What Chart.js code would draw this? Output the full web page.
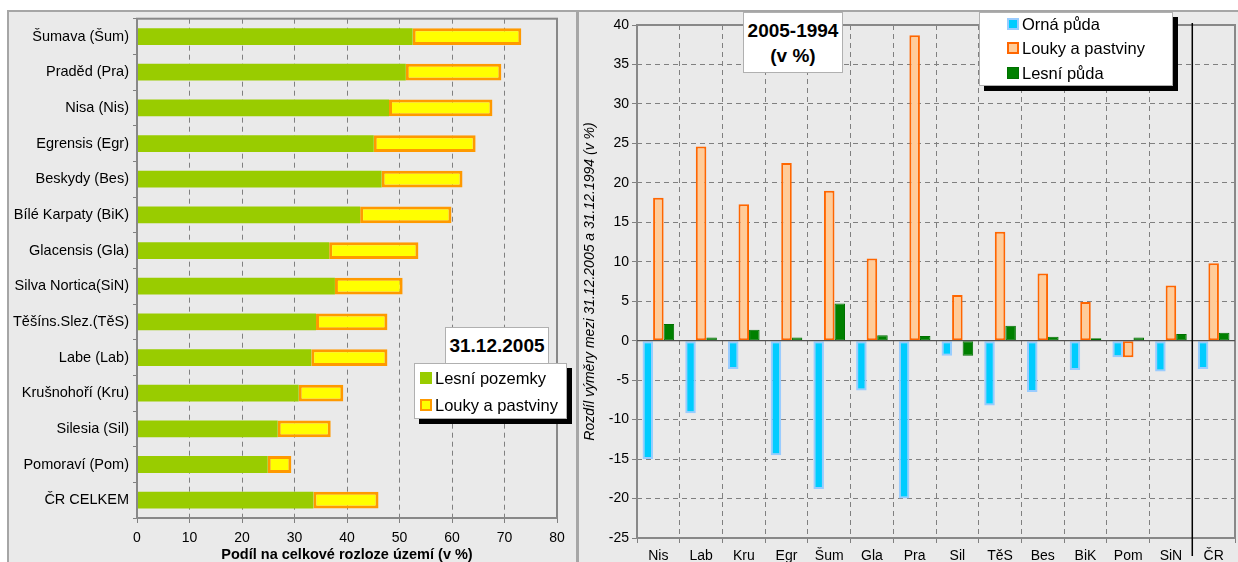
<!DOCTYPE html>
<html>
<head>
<meta charset="utf-8">
<script src="https://cdn.jsdelivr.net/npm/chart.js@4/dist/chart.umd.min.js"></script>
<style>
  html, body { margin:0; padding:0; background:#fff; }
  body { width:1238px; height:562px; overflow:hidden; position:relative; font-family:"Liberation Sans", Arial, sans-serif; }
  .panel { position:absolute; background:#eaeaea; box-sizing:border-box; }
  #pl { left:7px; top:10px; width:571px; height:560px; border-top:2px solid #a6a6a6; border-left:2px solid #a6a6a6; border-right:2px solid #a6a6a6; }
  #pr { left:578px; top:10px; width:660px; height:560px; border-top:2px solid #a6a6a6; border-left:1px solid #a6a6a6; }
  canvas { position:absolute; }
  .box { position:absolute; background:#fff; border:1px solid #b0b0b0; box-sizing:border-box; }
  .ttl { font-weight:bold; text-align:center; color:#000; }
  .lg { box-shadow:5px 5px 0 #000; }
  .item { position:absolute; white-space:nowrap; color:#000; }
  .sw { position:absolute; box-sizing:border-box; }
</style>
</head>
<body>
<div class="panel" id="pl"></div>
<div class="panel" id="pr"></div>
<canvas id="cl" width="568" height="556" style="left:9px;top:6px;width:568px;height:556px"></canvas>
<canvas id="cr" width="658" height="550" style="left:580px;top:12px;width:658px;height:550px"></canvas>

<div class="box ttl" style="left:445px;top:327px;width:104px;height:40px;font-size:19px;line-height:36px;">31.12.2005</div>
<div class="box lg" id="legL" style="left:414px;top:363px;width:153px;height:56px;"></div>

<div class="box ttl" style="left:743px;top:12px;width:100px;height:61px;font-size:19px;line-height:25px;padding-top:5px;">2005-1994<br>(v %)</div>
<div class="box lg" id="legR" style="left:979px;top:12px;width:194px;height:74px;"></div>

<script>
// ---- Left chart data (31.12.2005, share of total area in %) ----
const leftCategories = ['Šumava (Šum)', 'Praděd (Pra)', 'Nisa (Nis)', 'Egrensis (Egr)', 'Beskydy (Bes)', 'Bílé Karpaty (BiK)', 'Glacensis (Gla)', 'Silva Nortica(SiN)', 'Těšíns.Slez.(TěS)', 'Labe (Lab)', 'Krušnohoří (Kru)', 'Silesia (Sil)', 'Pomoraví (Pom)', 'ČR CELKEM'];
const forestShare = [52.5, 51.2, 48.0, 45.1, 46.6, 42.5, 36.6, 37.7, 34.1, 33.2, 30.8, 26.8, 24.9, 33.6];
const meadowShare = [20.7, 18.2, 19.7, 19.4, 15.4, 17.4, 17.0, 12.9, 13.6, 14.5, 8.5, 10.1, 4.5, 12.4];
const leftSeriesNames = ['Lesní pozemky', 'Louky a pastviny'];
const leftXTicks = [0, 10, 20, 30, 40, 50, 60, 70, 80];
const leftXTitle = 'Podíl na celkové rozloze území (v %)';

// ---- Right chart data (difference 2005-1994, %) ----
const rightCategories = ['Nis', 'Lab', 'Kru', 'Egr', 'Šum', 'Gla', 'Pra', 'Sil', 'TěS', 'Bes', 'BiK', 'Pom', 'SiN', 'ČR'];
const arableChange = [-15.0, -9.2, -3.6, -14.5, -18.8, -6.3, -20.0, -1.9, -8.2, -6.5, -3.7, -2.1, -3.9, -3.6];
const meadowChange = [18.1, 24.6, 17.3, 22.5, 19.0, 10.4, 38.7, 5.8, 13.8, 8.5, 4.9, -2.1, 7.0, 9.8];
const forestChange = [2.1, 0.4, 1.4, 0.4, 4.7, 0.7, 0.6, -1.9, 1.9, 0.5, 0.3, 0.4, 0.85, 1.0];
const rightSeriesNames = ['Orná půda', 'Louky a pastviny', 'Lesní půda'];
const rightYTicks = [-25, -20, -15, -10, -5, 0, 5, 10, 15, 20, 25, 30, 35, 40];
const rightYTitle = 'Rozdíl výměry mezi 31.12.2005 a 31.12.1994 (v %)';

const FONT = '"Liberation Sans", Arial, sans-serif';
Chart.defaults.font.family = FONT;
Chart.defaults.color = '#000';
Chart.defaults.animation = false;

const frame = {
  id: 'frame',
  afterDatasetsDraw(chart) {
    const a = chart.chartArea, c = chart.ctx;
    c.save();
    c.strokeStyle = '#888';
    c.lineWidth = 2;
    c.strokeRect(a.left, a.top, a.right - a.left, a.bottom - a.top);
    c.restore();
  }
};

const leftStyles = [
  { bg: '#99cc00', border: '#99cc00', bw: 0 },
  { bg: '#ffff00', border: '#ff9900', bw: 2 }
];
const rightStyles = [
  { bg: '#00ccff', border: '#99ccff', bw: 2 },
  { bg: '#ffcc99', border: '#ff6600', bw: 2 },
  { bg: '#008000', border: '#007000', bw: 1 }
];

new Chart(document.getElementById('cl'), {
  type: 'bar',
  data: {
    labels: leftCategories,
    datasets: [
      { label: leftSeriesNames[0], data: forestShare, backgroundColor: leftStyles[0].bg, borderWidth: 0, borderSkipped: false },
      { label: leftSeriesNames[1], data: meadowShare, backgroundColor: leftStyles[1].bg, borderColor: leftStyles[1].border, borderWidth: 3, borderSkipped: false }
    ]
  },
  options: {
    indexAxis: 'y',
    responsive: false,
    layout: { padding: { top: 5, right: 20, left: 0, bottom: 0 } },
    plugins: { legend: { display: false }, tooltip: { enabled: false } },
    datasets: { bar: { categoryPercentage: 0.94, barPercentage: 0.5 } },
    scales: {
      x: {
        stacked: true, min: 0, max: 80,
        afterBuildTicks(s) { s.ticks = leftXTicks.map(v => ({ value: v })); },
        afterFit(s) { s.height = 44; },
        ticks: { font: { size: 14 }, padding: 7 },
        grid: { color: '#808080', tickColor: '#808080', tickLength: 5, lineWidth: 1 },
        border: { display: false, dash: [5, 4] },
        title: { display: true, text: leftXTitle, font: { size: 14.5, weight: 'bold' }, padding: { top: 0, bottom: -2 } }
      },
      y: {
        stacked: true,
        afterFit(s) { s.width = 128; },
        ticks: { font: { size: 14.5 }, padding: 4 },
        grid: { drawOnChartArea: false, tickColor: '#808080', tickLength: 4, offset: true },
        border: { display: false }
      }
    }
  },
  plugins: [frame]
});

const zeroAndDivider = {
  id: 'zeroAndDivider',
  afterDatasetsDraw(chart) {
    const a = chart.chartArea, c = chart.ctx;
    const y0 = chart.scales.y.getPixelForValue(0);
    const xs = chart.scales.x;
    const xDiv = (xs.getPixelForValue(rightCategories.length - 2) + xs.getPixelForValue(rightCategories.length - 1)) / 2;
    c.save();
    c.strokeStyle = '#505050';
    c.lineWidth = 1.2;
    c.beginPath(); c.moveTo(a.left, y0); c.lineTo(a.right, y0); c.stroke();
    c.strokeStyle = '#000';
    c.lineWidth = 1.5;
    c.beginPath(); c.moveTo(xDiv, a.top - 2); c.lineTo(xDiv, a.bottom + 18); c.stroke();
    c.restore();
  }
};

new Chart(document.getElementById('cr'), {
  type: 'bar',
  data: {
    labels: rightCategories,
    datasets: [
      { label: rightSeriesNames[0], data: arableChange, backgroundColor: rightStyles[0].bg, borderColor: rightStyles[0].border, borderWidth: 2, borderSkipped: false },
      { label: rightSeriesNames[1], data: meadowChange, backgroundColor: rightStyles[1].bg, borderColor: rightStyles[1].border, borderWidth: 2, borderSkipped: false },
      { label: rightSeriesNames[2], data: forestChange, backgroundColor: rightStyles[2].bg, borderColor: rightStyles[2].border, borderWidth: 1, borderSkipped: false }
    ]
  },
  options: {
    responsive: false,
    layout: { padding: { top: 13, right: 3, left: 0, bottom: 0 } },
    plugins: { legend: { display: false }, tooltip: { enabled: false } },
    datasets: { bar: { categoryPercentage: 0.74, barPercentage: 1.0 } },
    scales: {
      x: {
        afterFit(s) { s.height = 24; },
        ticks: { font: { size: 14 }, padding: 5 },
        grid: { color: '#808080', tickColor: '#808080', tickLength: 5, offset: true },
        border: { display: false, dash: [5, 4] }
      },
      y: {
        min: -25, max: 40,
        afterBuildTicks(s) { s.ticks = rightYTicks.map(v => ({ value: v })); },
        afterFit(s) { s.width = 57; },
        ticks: { font: { size: 14 }, padding: 3 },
        grid: { color: '#808080', tickColor: '#808080', tickLength: 5 },
        border: { display: false, dash: [5, 4] },
        title: { display: true, text: rightYTitle, font: { size: 14, style: 'italic' }, padding: { top: 2, bottom: 0 } }
      }
    }
  },
  plugins: [frame, zeroAndDivider]
});

function buildLegend(el, names, styles, sw, tx, rowY, fs) {
  names.forEach((n, i) => {
    const s = styles[i];
    const d = document.createElement('div');
    d.className = 'sw';
    d.style.cssText = `left:${sw}px;top:${rowY[i] - 6}px;width:12px;height:12px;background:${s.bg};border:${s.bw}px solid ${s.border};`;
    el.appendChild(d);
    const t = document.createElement('div');
    t.className = 'item';
    t.style.cssText = `left:${tx}px;top:${rowY[i] - 10}px;font-size:${fs}px;line-height:20px;`;
    t.textContent = n;
    el.appendChild(t);
  });
}
buildLegend(document.getElementById('legL'), leftSeriesNames, leftStyles, 5, 20, [14, 41], 16.5);
buildLegend(document.getElementById('legR'), rightSeriesNames, rightStyles, 27, 42, [11, 35, 60], 16.5);
</script>
</body>
</html>
